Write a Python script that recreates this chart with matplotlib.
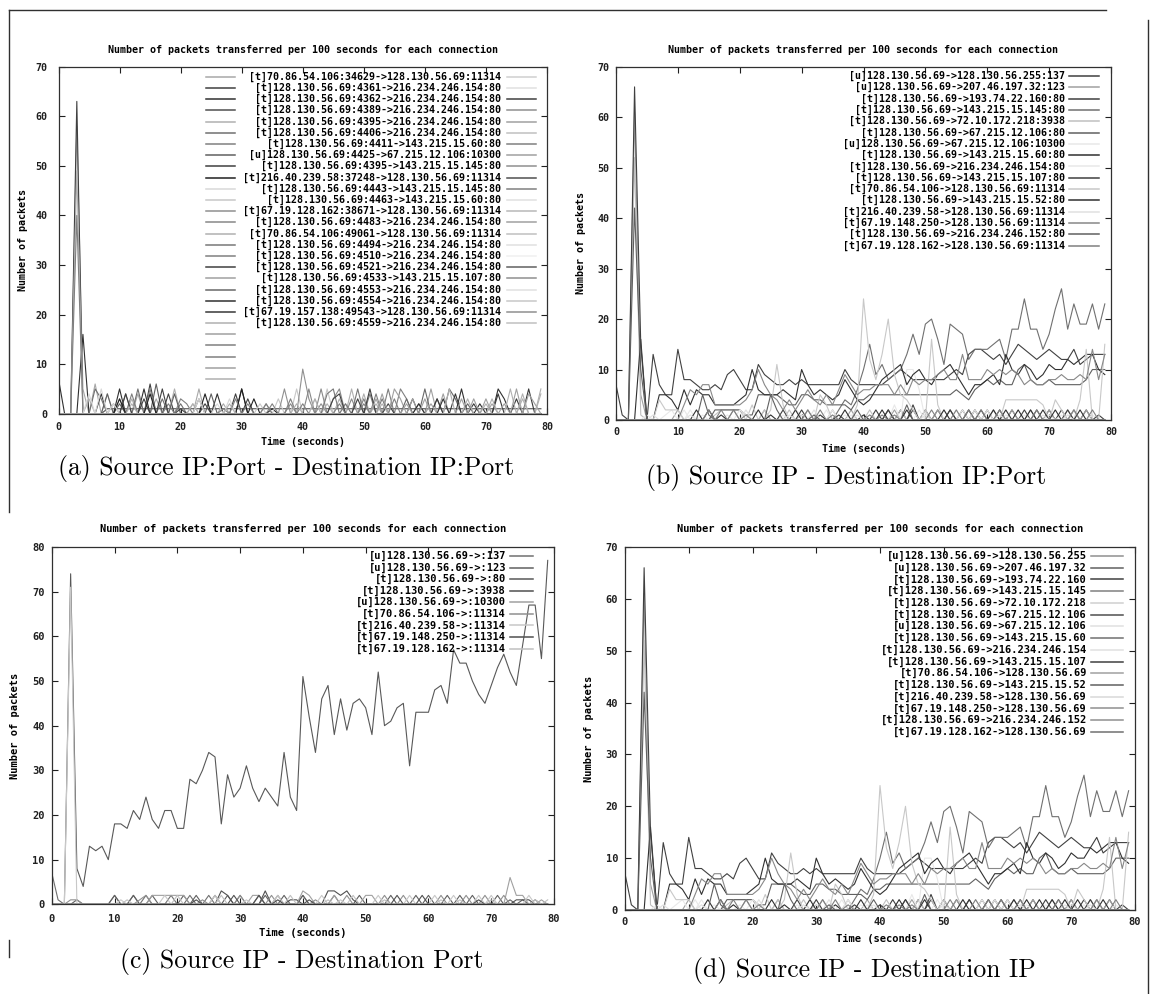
import matplotlib
matplotlib.use('Agg')
import matplotlib.pyplot as plt
from matplotlib.lines import Line2D

plt.rcParams['font.family'] = ['DejaVu Sans Mono']
plt.rcParams['font.weight'] = 'bold'

W, H = 1154, 994
t = list(range(80))

title = 'Number of packets transferred per 100 seconds for each connection'

# ---- (a) Source IP:Port - Destination IP:Port ----
a_labels = [
    '[t]70.86.54.106:34629->128.130.56.69:11314',
    '[t]128.130.56.69:4361->216.234.246.154:80',
    '[t]128.130.56.69:4362->216.234.246.154:80',
    '[t]128.130.56.69:4389->216.234.246.154:80',
    '[t]128.130.56.69:4395->216.234.246.154:80',
    '[t]128.130.56.69:4406->216.234.246.154:80',
    '[t]128.130.56.69:4411->143.215.15.60:80',
    '[u]128.130.56.69:4425->67.215.12.106:10300',
    '[t]128.130.56.69:4395->143.215.15.145:80',
    '[t]216.40.239.58:37248->128.130.56.69:11314',
    '[t]128.130.56.69:4443->143.215.15.145:80',
    '[t]128.130.56.69:4463->143.215.15.60:80',
    '[t]67.19.128.162:38671->128.130.56.69:11314',
    '[t]128.130.56.69:4483->216.234.246.154:80',
    '[t]70.86.54.106:49061->128.130.56.69:11314',
    '[t]128.130.56.69:4494->216.234.246.154:80',
    '[t]128.130.56.69:4510->216.234.246.154:80',
    '[t]128.130.56.69:4521->216.234.246.154:80',
    '[t]128.130.56.69:4533->143.215.15.107:80',
    '[t]128.130.56.69:4553->216.234.246.154:80',
    '[t]128.130.56.69:4554->216.234.246.154:80',
    '[t]67.19.157.138:49543->128.130.56.69:11314',
    '[t]128.130.56.69:4559->216.234.246.154:80',
]
a_colors = ['#a8a8a8', '#404040', '#303030', '#505050', '#b0b0b0', '#707070', '#808080',
            '#606060', '#404040', '#202020', '#d8d8d8', '#c8c8c8', '#909090', '#888888',
            '#b0b0b0', '#787878', '#808080', '#404040', '#a0a0a0', '#686868', '#303030',
            '#383838', '#b0b0b0', '#a0a0a0', '#808080', '#808080', '#a0a0a0', '#b0b0b0']
a_colors_right = ['#d0d0d0', '#e0e0e0', '#404040', '#909090', '#a0a0a0', '#c0c0c0', '#808080',
                  '#a0a0a0', '#909090', '#505050', '#808080', '#e0e0e0', '#b8b8b8', '#a0a0a0',
                  '#c0c0c0', '#e0e0e0', '#f0f0f0', '#606060', '#909090', '#e0e0e0', '#c8c8c8',
                  '#909090', '#c0c0c0']
# long lived connection sitting at ~1 packet
a_flat = [0, 0, 0, 0, 0, 0, 0, 0, 1, 1,
          1, 1, 1, 1, 1, 1, 1, 1, 1, 1,
          1, 1, 1, 1, 1, 1, 1, 1, 1, 1,
          1, 1, 1, 1, 1, 1, 1, 1, 1, 1,
          1, 1, 1, 1, 1, 1, 1, 1, 1, 1,
          1, 1, 1, 1, 1, 1, 1, 1, 1, 1,
          1, 1, 1, 1, 1, 1, 1, 1, 1, 1,
          1, 1, 1, 1, 1, 1, 1, 1, 1, 1]
# short connections: {time: packets}, zero elsewhere
a_peaks = [
    {3: 58, 4: 5, 6: 6, 10: 3, 13: 4, 16: 3, 23: 5, 27: 2},
    {3: 63, 15: 6, 18: 4, 24: 2},
    {0: 7, 4: 16, 7: 4, 10: 5, 14: 5, 26: 4, 30: 5},
    None,
    {3: 49, 5: 3, 8: 4, 12: 3, 19: 5, 22: 2},
    {6: 5, 7: 3, 11: 4, 13: 5, 17: 3, 20: 2},
    {3: 40, 9: 2, 12: 4, 15: 5, 18: 2},
    {8: 4, 10: 2, 16: 6, 19: 4, 23: 3, 25: 4},
    {11: 4, 14: 3, 17: 5, 20: 1, 29: 4, 31: 3},
    {10: 3, 15: 4, 24: 4, 30: 5, 32: 3, 35: 1},
    {5: 4, 7: 5, 9: 2, 23: 3, 26: 2, 28: 3},
    {33: 2, 36: 3, 39: 5, 42: 3, 44: 5, 47: 2},
    {34: 2, 37: 5, 40: 9, 41: 3, 43: 2},
    {38: 2, 41: 5, 43: 5, 45: 3, 46: 5, 48: 3},
    {42: 3, 44: 2, 46: 3, 48: 5, 50: 4, 52: 2},
    {44: 4, 45: 5, 47: 2, 49: 5, 51: 4, 53: 3},
    {50: 3, 52: 4, 54: 5, 56: 5, 57: 3, 59: 2},
    {45: 3, 46: 4, 49: 3, 51: 5, 54: 2, 58: 3},
    {53: 4, 55: 5, 56: 3, 58: 3, 61: 5, 63: 4},
    {57: 3, 60: 5, 62: 3, 64: 5, 65: 3, 67: 2},
    {59: 2, 63: 3, 66: 5, 69: 2, 72: 5, 73: 3},
    {62: 3, 65: 4, 68: 2, 72: 4, 75: 3, 77: 5},
    {64: 5, 67: 3, 70: 2, 74: 5, 76: 4, 79: 5},
    {61: 2, 66: 3, 71: 2, 75: 5, 77: 4, 78: 2},
    {20: 3, 21: 2, 27: 1, 29: 3, 31: 2, 34: 2},
    {35: 2, 38: 3, 40: 2, 46: 2, 50: 2, 55: 3},
    {52: 3, 57: 2, 60: 3, 68: 3, 70: 3, 73: 2},
    {12: 2, 22: 2, 28: 2, 39: 2, 53: 2, 71: 3, 76: 3, 79: 4},
]

# ---- (b) Source IP - Destination IP:Port  and (d) Source IP - Destination IP ----
b_labels = [
    '[u]128.130.56.69->128.130.56.255:137',
    '[u]128.130.56.69->207.46.197.32:123',
    '[t]128.130.56.69->193.74.22.160:80',
    '[t]128.130.56.69->143.215.15.145:80',
    '[t]128.130.56.69->72.10.172.218:3938',
    '[t]128.130.56.69->67.215.12.106:80',
    '[u]128.130.56.69->67.215.12.106:10300',
    '[t]128.130.56.69->143.215.15.60:80',
    '[t]128.130.56.69->216.234.246.154:80',
    '[t]128.130.56.69->143.215.15.107:80',
    '[t]70.86.54.106->128.130.56.69:11314',
    '[t]128.130.56.69->143.215.15.52:80',
    '[t]216.40.239.58->128.130.56.69:11314',
    '[t]67.19.148.250->128.130.56.69:11314',
    '[t]128.130.56.69->216.234.246.152:80',
    '[t]67.19.128.162->128.130.56.69:11314',
]
d_labels = [
    '[u]128.130.56.69->128.130.56.255',
    '[u]128.130.56.69->207.46.197.32',
    '[t]128.130.56.69->193.74.22.160',
    '[t]128.130.56.69->143.215.15.145',
    '[t]128.130.56.69->72.10.172.218',
    '[t]128.130.56.69->67.215.12.106',
    '[u]128.130.56.69->67.215.12.106',
    '[t]128.130.56.69->143.215.15.60',
    '[t]128.130.56.69->216.234.246.154',
    '[t]128.130.56.69->143.215.15.107',
    '[t]70.86.54.106->128.130.56.69',
    '[t]128.130.56.69->143.215.15.52',
    '[t]216.40.239.58->128.130.56.69',
    '[t]67.19.148.250->128.130.56.69',
    '[t]128.130.56.69->216.234.246.152',
    '[t]67.19.128.162->128.130.56.69',
]
b_colors = ['#404040', '#a0a0a0', '#404040', '#707070', '#c0c0c0', '#606060', '#e8e8e8',
            '#303030', '#e8e8e8', '#404040', '#c8c8c8', '#303030', '#e0e0e0', '#888888',
            '#606060', '#808080']
d_colors = ['#909090', '#606060', '#404040', '#808080', '#d0d0d0', '#505050', '#e0e0e0',
            '#707070', '#e0e0e0', '#404040', '#a0a0a0', '#606060', '#d8d8d8', '#909090',
            '#909090', '#707070']

b_137 = {0: 7, 1: 1, 42: 2, 44: 2, 46: 2, 48: 2, 50: 2, 52: 2, 54: 2, 56: 2, 58: 2,
         60: 2, 62: 2, 64: 2, 66: 2, 68: 2, 70: 2, 72: 2, 74: 2, 76: 2}
b_123 = {3: 61, 4: 5, 10: 2, 19: 2, 24: 2, 31: 2, 35: 2, 38: 2, 45: 2, 52: 2, 58: 2,
         61: 2, 64: 2, 67: 2, 70: 2, 73: 2, 76: 2}
b_193 = [0, 0, 0, 0, 0, 0, 13, 7, 5, 5,
         14, 8, 8, 7, 6, 6, 7, 6, 9, 10,
         8, 6, 6, 11, 9, 8, 7, 7, 8, 7,
         8, 7, 7, 7, 7, 7, 7, 10, 8, 7,
         7, 7, 7, 7, 8, 9, 10, 9, 8, 8,
         8, 8, 8, 8, 9, 10, 9, 13, 14, 14,
         13, 12, 13, 11, 13, 15, 14, 13, 12, 13,
         14, 13, 12, 12, 14, 11, 12, 13, 13, 13]
b_145 = [0, 0, 0, 0, 0, 0, 0, 0, 0, 0,
         0, 0, 0, 0, 0, 0, 0, 0, 0, 0,
         0, 0, 0, 0, 0, 0, 0, 0, 0, 0,
         0, 0, 0, 0, 0, 0, 2, 4, 3, 6,
         10, 15, 9, 11, 8, 9, 10, 13, 17, 13,
         19, 20, 16, 11, 19, 18, 17, 12, 14, 14,
         14, 15, 16, 12, 18, 18, 24, 18, 18, 14,
         17, 22, 26, 18, 23, 19, 19, 23, 18, 23]
b_3938 = {3: 52, 4: 1, 16: 1, 17: 2, 18: 2, 19: 2, 20: 2, 24: 2, 28: 2, 30: 1, 41: 2,
          46: 2, 50: 2}
b_67_80 = [0, 0, 0, 0, 0, 0, 0, 0, 0, 0,
           0, 0, 0, 0, 0, 0, 2, 2, 2, 2,
           2, 1, 1, 5, 5, 5, 5, 4, 3, 3,
           5, 5, 4, 4, 3, 3, 3, 3, 2, 4,
           4, 5, 5, 5, 5, 5, 5, 5, 5, 5,
           5, 5, 5, 5, 5, 6, 5, 4, 6, 7,
           8, 7, 8, 7, 7, 10, 11, 8, 7, 7,
           8, 7, 7, 7, 7, 7, 8, 10, 10, 10]
b_10300 = {8: 1, 9: 2, 12: 2, 14: 1, 20: 2, 21: 1, 29: 2, 30: 1, 35: 2, 37: 1, 45: 3,
           47: 10, 48: 10, 49: 6, 53: 2, 55: 2, 63: 1, 70: 1, 74: 2}
b_60 = [0, 0, 0, 0, 16, 0, 0, 5, 5, 4,
        2, 6, 3, 6, 5, 5, 3, 3, 3, 3,
        4, 5, 10, 6, 5, 5, 5, 6, 5, 4,
        10, 7, 5, 6, 5, 4, 5, 8, 6, 4,
        3, 4, 6, 8, 9, 10, 11, 7, 9, 10,
        8, 7, 9, 10, 11, 9, 7, 5, 7, 7,
        8, 9, 7, 13, 10, 9, 11, 10, 8, 9,
        11, 10, 10, 12, 11, 12, 13, 13, 10, 9]
b_154 = {5: 1, 11: 2, 18: 1, 27: 1, 34: 2, 38: 1, 49: 2, 56: 2, 60: 2, 66: 1, 72: 1, 77: 1}
b_107 = {3: 66, 4: 15, 27: 2, 30: 2, 36: 1, 44: 2, 48: 3, 54: 2, 73: 2, 78: 1}
b_70 = {7: 4, 8: 2, 9: 2, 10: 2, 22: 3, 25: 2, 26: 11, 27: 3, 33: 5, 34: 3, 39: 3,
        40: 24, 41: 12, 42: 8, 43: 13, 44: 20, 45: 9, 46: 5, 47: 4, 48: 2, 51: 16, 52: 3,
        57: 2, 63: 4, 64: 4, 65: 4, 66: 4, 67: 4, 68: 4, 69: 3, 71: 4, 72: 2, 75: 4,
        76: 14, 79: 15}
b_52 = {13: 2, 15: 2, 17: 1, 23: 2, 25: 1, 29: 2, 33: 1, 37: 2, 40: 1, 43: 2, 47: 2,
        53: 2, 57: 2, 59: 2, 61: 2, 63: 2, 65: 2, 67: 2, 69: 2, 71: 2, 75: 2}
b_216 = {6: 1, 12: 1, 21: 2, 28: 1, 32: 2, 39: 1, 50: 1, 58: 2, 62: 1, 69: 1, 73: 1}
b_148 = [0, 0, 0, 0, 0, 0, 0, 0, 0, 0,
         0, 3, 6, 5, 7, 7, 3, 3, 3, 3,
         3, 4, 6, 10, 7, 5, 4, 2, 4, 2,
         4, 6, 4, 3, 5, 3, 6, 9, 7, 5,
         6, 6, 7, 7, 7, 5, 7, 5, 8, 7,
         8, 8, 9, 10, 8, 8, 13, 8, 8, 8,
         10, 9, 10, 9, 10, 9, 7, 8, 7, 7,
         8, 8, 9, 8, 8, 9, 8, 14, 8, 13]
b_152 = {3: 42, 4: 10, 14: 5, 15: 1, 25: 5, 26: 2, 32: 1, 39: 2, 47: 3}
b_162 = {15: 2, 17: 2, 19: 2, 21: 1, 31: 2, 33: 2, 35: 1, 41: 1, 43: 1, 45: 1, 51: 2,
         55: 2, 57: 2, 59: 2, 62: 2, 68: 2, 74: 2, 77: 2}

# ---- (c) Source IP - Destination Port ----
c_labels = [
    '[u]128.130.56.69->:137',
    '[u]128.130.56.69->:123',
    '[t]128.130.56.69->:80',
    '[t]128.130.56.69->:3938',
    '[u]128.130.56.69->:10300',
    '[t]70.86.54.106->:11314',
    '[t]216.40.239.58->:11314',
    '[t]67.19.148.250->:11314',
    '[t]67.19.128.162->:11314',
]
c_colors = ['#707070', '#606060', '#585858', '#505050', '#a0a0a0', '#909090', '#c8c8c8',
            '#505050', '#c0c0c0']
c_137 = {0: 7, 1: 1, 10: 2, 13: 2, 15: 2, 19: 2, 22: 2, 25: 2, 30: 2, 33: 2, 36: 2,
         40: 2, 45: 2}
c_123 = {4: 1, 10: 2, 13: 2, 16: 2, 21: 2, 23: 2, 26: 2, 28: 2, 34: 2, 37: 2, 40: 2,
         49: 2, 54: 2, 58: 2, 60: 2, 63: 2, 65: 2, 67: 2, 71: 2, 73: 1, 75: 1, 77: 1}
c_80 = [0, 0, 0, 74, 8, 4, 13, 12, 13, 10,
        18, 18, 17, 21, 19, 24, 19, 17, 21, 21,
        17, 17, 28, 27, 30, 34, 33, 18, 29, 24,
        26, 31, 26, 23, 26, 24, 22, 34, 24, 21,
        51, 42, 34, 46, 49, 38, 46, 39, 45, 46,
        44, 38, 52, 40, 41, 44, 45, 31, 43, 43,
        43, 48, 49, 45, 57, 54, 54, 50, 47, 45,
        49, 53, 56, 52, 49, 58, 67, 67, 55, 77]
c_3938 = {27: 3, 28: 2, 34: 3, 38: 1, 39: 1, 44: 3, 45: 3, 46: 2, 47: 3, 48: 1, 74: 1,
          75: 1, 76: 1}
c_10300 = {16: 2, 17: 2, 18: 2, 19: 2, 20: 2, 21: 2, 32: 2, 33: 2, 40: 3, 41: 2, 45: 2,
           50: 2, 51: 2, 73: 6, 74: 2, 75: 2, 78: 1}
c_70 = {3: 1, 4: 1, 14: 1, 15: 2, 24: 1, 30: 2, 35: 2, 42: 1, 47: 2, 53: 2, 56: 2,
        62: 2, 66: 2, 69: 2, 72: 2}
c_216 = {3: 71, 11: 1, 18: 2, 26: 2, 31: 1, 36: 2, 43: 2, 46: 1, 52: 2, 57: 2, 61: 2,
         64: 2, 68: 2, 70: 2, 76: 2}
c_148 = {23: 1, 29: 2, 33: 2, 36: 1, 41: 1, 55: 2, 59: 2, 68: 1}
c_162 = {12: 1, 20: 2, 27: 2, 38: 2, 44: 1, 48: 2, 53: 1, 62: 1, 65: 1, 70: 1, 77: 1, 79: 1}

captions = ['(a) Source IP:Port - Destination IP:Port',
            '(b) Source IP - Destination IP:Port',
            '(c) Source IP - Destination Port',
            '(d) Source IP - Destination IP']


def expand(peaks):
    vals = [0] * len(t)
    for k, v in peaks.items():
        vals[k] = v
    return vals


def as_series(d):
    return expand(d) if isinstance(d, dict) else d


fig = plt.figure(figsize=(W / 100, H / 100), dpi=100)


def fx(x):
    return x / W


def fy(y):
    return 1 - y / H


def hline(x0, x1, y, color, lw=1.0):
    fig.add_artist(Line2D([fx(x0), fx(x1)], [fy(y), fy(y)], color=color, lw=lw,
                          transform=fig.transFigure))


def vline(x, y0, y1, color='#303030', lw=1.0):
    fig.add_artist(Line2D([fx(x), fx(x)], [fy(y0), fy(y1)], color=color, lw=lw,
                          transform=fig.transFigure))


def panel(box, ymax, fs, xpad, ypad, title_y, xlabel_y, ylabel_x, cap, cap_xy):
    left, right, top, bottom = box
    ax = fig.add_axes([fx(left), fy(bottom), (right - left) / W, (bottom - top) / H])
    ax.set_xlim(0, 80)
    ax.set_ylim(0, ymax)
    ax.set_xticks(range(0, 81, 10))
    ax.set_yticks(range(0, ymax + 1, 10))
    ax.tick_params(direction='in', top=True, right=True, length=4, width=0.8,
                   labelsize=fs, colors='#202020')
    ax.tick_params(axis='x', pad=xpad)
    ax.tick_params(axis='y', pad=ypad)
    for s in ax.spines.values():
        s.set_linewidth(0.9)
        s.set_color('#303030')
    cx = (left + right) / 2
    fig.text(fx(cx), fy(title_y), title, ha='center', va='center', fontsize=fs)
    fig.text(fx(cx), fy(xlabel_y), 'Time (seconds)', ha='center', va='center', fontsize=fs)
    fig.text(fx(ylabel_x), fy((top + bottom) / 2), 'Number of packets', ha='center',
             va='center', rotation=90, fontsize=fs)
    fig.text(fx(cap_xy[0]), fy(cap_xy[1]), cap, ha='center', va='center',
             fontsize=18.5, family='cmr10', weight='normal')
    return ax


def key(labels, colors, x_text, xs, y0, dy, fs):
    for i, lab in enumerate(labels):
        fig.text(fx(x_text), fy(y0 + i * dy), lab, ha='right', va='center', fontsize=fs)
    for i, c in enumerate(colors):
        hline(xs[0], xs[1], y0 + i * dy, c, lw=1.1)


# (a)
ax = panel((58.5, 547, 66.7, 413.7), 70, 7.2, 6, 8, 50, 442, 23, captions[0], (286, 469))
for p, c in zip(a_peaks, a_colors):
    vals = a_flat if p is None else expand(p)
    ax.plot(t, vals, color=c, lw=0.8)
key(a_labels, a_colors_right, 501.3, (507, 536), 76.7, 11.2, 7.2)
key([], a_colors, 501.3, (206, 235), 76.7, 11.2, 7.2)

# (b) and (d) share the same traffic
b_series = [b_137, b_123, b_193, b_145, b_3938, b_67_80, b_10300, b_60, b_154, b_107,
            b_70, b_52, b_216, b_148, b_152, b_162]

ax = panel((616, 1111, 66.7, 420), 70, 7.2, 5, 5, 50, 449, 581, captions[1], (846.5, 478))
for s, c in zip(b_series, b_colors):
    ax.plot(t, as_series(s), color=c, lw=0.8)
key(b_labels, b_colors, 1064.6, (1069, 1099), 76, 11.3, 7.2)

# (c)
c_series = [c_137, c_123, c_80, c_3938, c_10300, c_70, c_216, c_148, c_162]
ax = panel((51.8, 554, 547, 904.3), 80, 7.5, 7, 5, 529, 933, 15, captions[2], (301.5, 961.7))
for s, c in zip(c_series, c_colors):
    ax.plot(t, as_series(s), color=c, lw=0.8)
key(c_labels, c_colors, 506, (510, 533), 556, 11.58, 7.5)

# (d)
ax = panel((625, 1135, 547, 910), 70, 7.5, 5, 5, 529, 939, 588.6, captions[3], (864, 970))
for s, c in zip(b_series, b_colors):
    ax.plot(t, as_series(s), color=c, lw=0.8)
key(d_labels, d_colors, 1087, (1090.7, 1123), 556, 11.73, 7.5)

# page frame lines
hline(9, 1106, 10, '#303030')
vline(9, 10, 512)
vline(9, 940, 957)
vline(1148, 20, 994)

fig.savefig('out.png', dpi=100)
